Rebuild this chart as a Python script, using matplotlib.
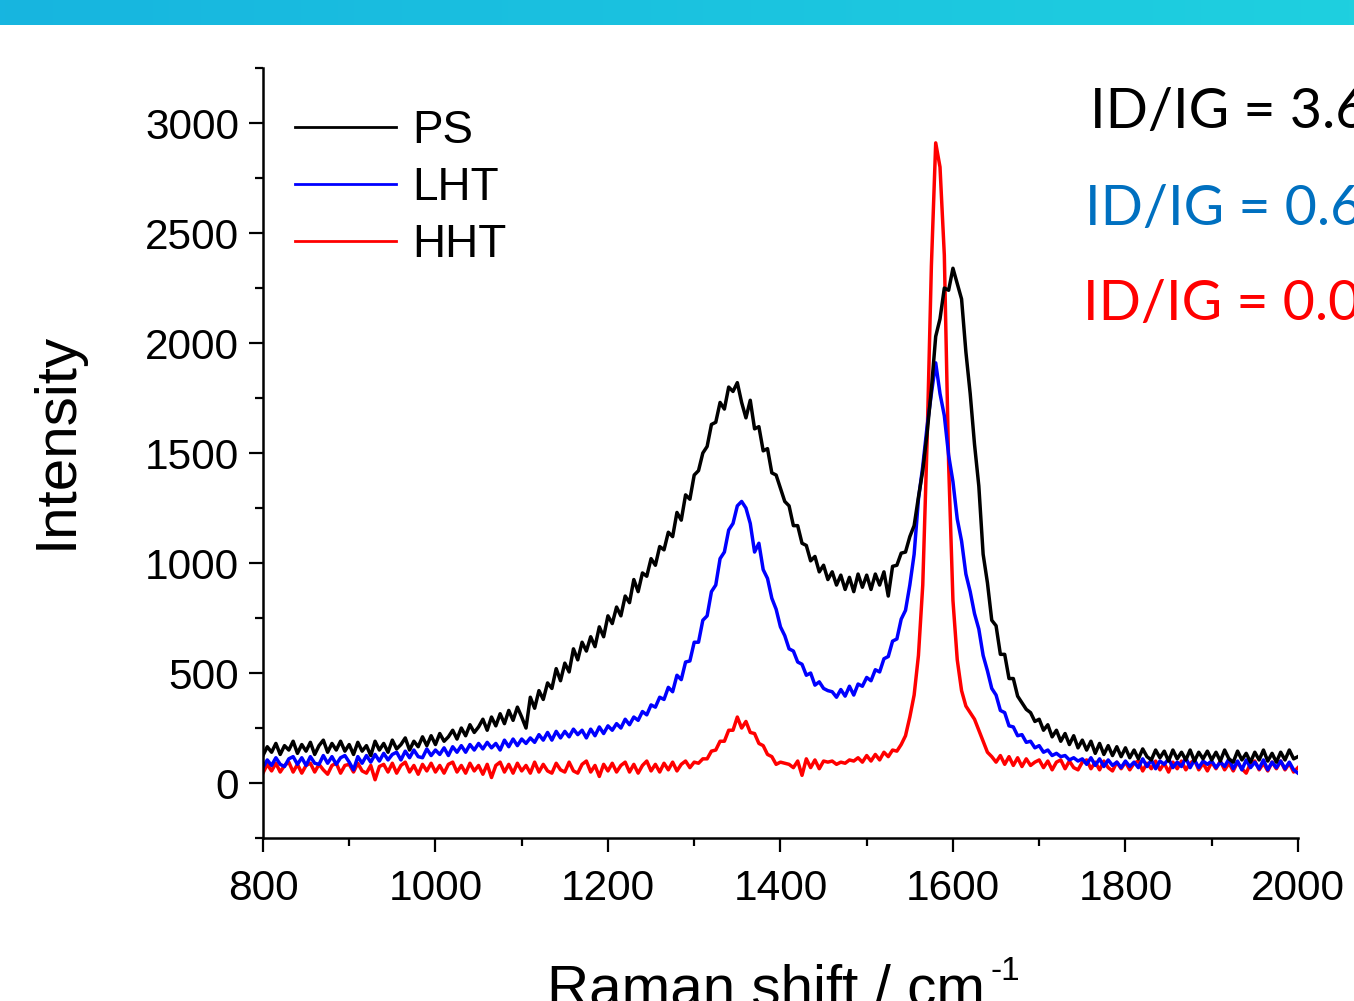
import numpy as np
import matplotlib.pyplot as plt
from matplotlib.colors import LinearSegmentedColormap
from matplotlib.ticker import MultipleLocator

plt.rcParams['font.family'] = 'Liberation Sans'

# Raman shift grid (cm^-1), one reading every 5 cm^-1
SHIFT_START, SHIFT_END, SHIFT_STEP = 800, 2000, 5
shift = np.arange(SHIFT_START, SHIFT_END + SHIFT_STEP, SHIFT_STEP)

# PS spectrum, one row per 100 cm^-1 (800-895, 900-995, ...)
ps = [
    125, 165, 140, 180, 130, 170, 150, 190, 135, 175, 145, 185, 130, 170, 195, 140, 180, 150, 190, 145,
    175, 130, 185, 145, 170, 125, 190, 150, 180, 140, 195, 155, 175, 205, 150, 190, 165, 210, 170, 215,
    175, 225, 190, 210, 240, 200, 250, 215, 265, 230, 255, 290, 240, 300, 260, 315, 270, 330, 285, 345,
    300, 250, 390, 340, 420, 380, 455, 430, 520, 465, 545, 505, 610, 560, 640, 600, 665, 620, 710, 665,
    760, 725, 800, 760, 850, 820, 925, 870, 955, 940, 1020, 990, 1075, 1060, 1140, 1120, 1230, 1195, 1310, 1290,
    1400, 1420, 1500, 1530, 1630, 1640, 1730, 1700, 1800, 1780, 1820, 1730, 1660, 1740, 1610, 1620, 1510, 1520, 1410, 1400,
    1340, 1280, 1260, 1170, 1170, 1090, 1080, 1010, 1030, 960, 990, 925, 960, 900, 945, 880, 935, 870, 950, 890,
    945, 880, 950, 900, 960, 850, 985, 990, 1045, 1050, 1120, 1170, 1300, 1420, 1590, 1790, 2030, 2110, 2250, 2240,
    2340, 2270, 2200, 1960, 1770, 1540, 1350, 1040, 910, 740, 715, 585, 585, 475, 475, 395, 365, 335, 320, 280,
    290, 240, 265, 210, 240, 190, 225, 175, 215, 160, 195, 150, 190, 135, 180, 130, 170, 125, 165, 120,
    160, 115, 150, 110, 155, 120, 105, 150, 115, 145, 100, 150, 110, 140, 105, 150, 100, 140, 110, 145,
    105, 140, 100, 150, 110, 95, 145, 105, 135, 95, 140, 105, 150, 100, 135, 95, 140, 105, 150, 110, 120,
]

# LHT spectrum
lht = [
    70, 105, 80, 115, 85, 75, 110, 120, 85, 115, 80, 120, 90, 85, 125, 90, 120, 85, 115, 125,
    95, 60, 120, 90, 125, 95, 130, 100, 135, 105, 130, 140, 105, 145, 115, 150, 120, 115, 155, 125,
    150, 130, 160, 125, 165, 140, 170, 140, 175, 150, 180, 155, 185, 160, 180, 150, 195, 165, 200, 170,
    200, 180, 205, 185, 220, 195, 230, 195, 235, 205, 235, 210, 245, 220, 240, 205, 245, 215, 255, 225,
    260, 240, 270, 250, 290, 265, 300, 285, 325, 310, 355, 345, 390, 380, 435, 415, 490, 470, 550, 555,
    640, 640, 740, 760, 870, 900, 1020, 1050, 1150, 1180, 1260, 1280, 1250, 1180, 1050, 1090, 970, 930, 840, 790,
    710, 670, 610, 600, 550, 540, 490, 500, 445, 460, 430, 420, 415, 390, 425, 395, 440, 400, 450, 440,
    480, 465, 515, 505, 565, 575, 645, 655, 745, 785, 900, 1040, 1290, 1440, 1620, 1770, 1910, 1770, 1670, 1490,
    1370, 1200, 1100, 950, 870, 770, 700, 580, 510, 430, 400, 330, 320, 260, 255, 215, 220, 185, 190, 160,
    170, 140, 150, 125, 135, 120, 125, 105, 115, 100, 110, 85, 115, 80, 110, 75, 105, 80, 95, 70,
    100, 75, 95, 70, 110, 75, 105, 65, 100, 85, 110, 70, 95, 75, 115, 70, 105, 70, 100, 85,
    100, 70, 95, 75, 110, 65, 100, 60, 105, 70, 95, 65, 105, 60, 95, 70, 100, 65, 95, 60, 45,
]

# HHT spectrum
hht = [
    45, 85, 55, 90, 50, 80, 95, 50, 85, 45, 80, 90, 50, 85, 60, 40, 80, 90, 45, 80,
    85, 50, 90, 55, 45, 80, 15, 75, 85, 50, 90, 45, 80, 95, 50, 80, 40, 85, 55, 90,
    50, 80, 45, 85, 95, 50, 80, 45, 90, 55, 80, 40, 85, 25, 80, 95, 50, 85, 45, 90,
    55, 80, 45, 95, 50, 85, 55, 45, 90, 60, 50, 95, 55, 45, 85, 100, 50, 80, 30, 85,
    55, 90, 50, 80, 95, 50, 85, 45, 80, 100, 55, 85, 50, 90, 60, 95, 55, 85, 100, 70,
    95, 90, 110, 110, 145, 150, 190, 190, 240, 240, 300, 250, 280, 230, 225, 180, 170, 130, 120, 85,
    95, 90, 85, 70, 100, 35, 110, 70, 105, 65, 100, 95, 100, 85, 95, 90, 105, 100, 115, 95,
    125, 100, 130, 105, 140, 120, 150, 145, 175, 215, 300, 400, 580, 900, 1550, 2350, 2910, 2800, 2400, 1450,
    830, 560, 420, 350, 320, 290, 240, 190, 140, 120, 95, 125, 85, 120, 80, 115, 75, 110, 80, 95,
    105, 70, 100, 60, 95, 105, 65, 100, 70, 60, 95, 105, 65, 95, 60, 100, 70, 55, 95, 65,
    95, 60, 90, 100, 55, 90, 65, 100, 60, 90, 50, 95, 65, 100, 60, 90, 105, 60, 90, 55,
    95, 65, 100, 60, 90, 55, 95, 65, 45, 90, 100, 60, 90, 55, 95, 65, 100, 60, 90, 50, 70,
]

samples = ['PS', 'LHT', 'HHT']
line_colors = ['black', 'blue', 'red']
ratio_labels = ['ID/IG = 3.6', 'ID/IG = 0.6', 'ID/IG = 0.0']
ratio_colors = ['black', '#0070C0', '#FF0000']

fig = plt.figure(figsize=(13.54, 10.01), dpi=100)

# slide header band
band = fig.add_axes([0, 1 - 25 / 1001, 1, 25 / 1001])
header_cmap = LinearSegmentedColormap.from_list('header', ['#17b5e0', '#1fd0df'])
band.imshow(np.linspace(0, 1, 256).reshape(1, -1), aspect='auto', cmap=header_cmap)
band.axis('off')

ax = fig.add_axes([0.1942, 0.1628, 0.7644, 0.7692])
spectra = {'PS': ps, 'LHT': lht, 'HHT': hht}
handles = {}
# draw HHT first so PS ends up on top
for name, color in reversed(list(zip(samples, line_colors))):
    handles[name], = ax.plot(shift, spectra[name], color=color, lw=2.5, label=name)

ax.set_xlim(800, 2000)
ax.set_ylim(-250, 3250)
ax.xaxis.set_major_locator(MultipleLocator(200))
ax.xaxis.set_minor_locator(MultipleLocator(100))
ax.yaxis.set_major_locator(MultipleLocator(500))
ax.yaxis.set_minor_locator(MultipleLocator(250))

for side in ['top', 'right']:
    ax.spines[side].set_visible(False)
for side in ['left', 'bottom']:
    ax.spines[side].set_linewidth(1.8)
ax.tick_params(which='major', direction='out', length=10, width=1.6, labelsize=30.5, pad=7)
ax.tick_params(which='minor', direction='out', length=5.5, width=1.6)
ax.tick_params(axis='x', which='major', pad=12)

fig.text(57 / 1354, 1 - 440 / 1001, 'Intensity', rotation=90, ha='center', va='center', fontsize=42)
fig.text(985 / 1354, 1 - 1005 / 1001, 'Raman shift / cm', ha='right', va='baseline', fontsize=42)
fig.text(990 / 1354, 1 - 980 / 1001, '-1', ha='left', va='baseline', fontsize=24)

leg = ax.legend([handles[s] for s in samples], samples, loc='upper left',
                bbox_to_anchor=(0.031, 0.947), frameon=False, fontsize=33,
                handlelength=2.2, handletextpad=0.35, labelspacing=0.29,
                borderpad=0, borderaxespad=0)
for line in leg.get_lines():
    line.set_linewidth(2.0)

baselines = [128, 225, 320]
lefts = [1090, 1085, 1083]
for label, color, yb, xl in zip(ratio_labels, ratio_colors, baselines, lefts):
    fig.text(xl / 1354, 1 - yb / 1001, label, color=color, fontsize=40,
             family='Lato', ha='left', va='baseline')

fig.savefig('out.png', dpi=100)
